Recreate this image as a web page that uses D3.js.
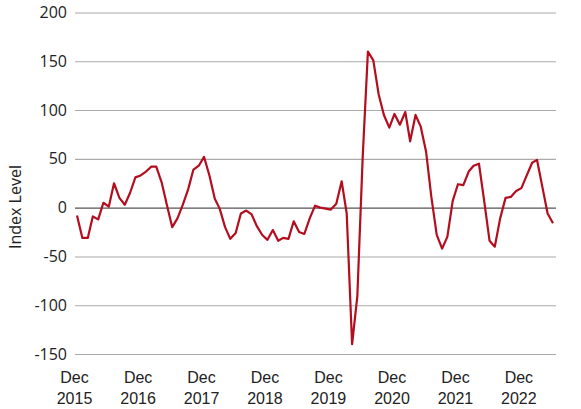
<!DOCTYPE html>
<html>
<head>
<meta charset="utf-8">
<script src="https://cdn.jsdelivr.net/npm/d3@7"></script>
<style>
  body { margin: 0; background: #fff; }
  svg { display: block; font-family: "Open Sans", sans-serif; }
</style>
</head>
<body>
<svg id="chart" width="581" height="409"></svg>
<script>
// monthly index level, Dec 2015 .. Jun 2023
const startMonth = new Date(2015, 11, 1);
const indexValues = [
  -8, -31, -31, -9, -12, 5, 1, 25, 10, 3, 15, 31,
  33, 37, 42, 42, 26, 3, -20, -11, 3, 19, 39, 43,
  52, 33, 9, -1, -20, -32, -26, -6, -3, -7, -19, -28,
  -33, -23, -34, -31, -32, -14, -25, -27, -11, 2, 0, -1,
  -2, 4, 27, -6, -140, -91, 52, 160, 151, 116, 95, 82,
  96, 85, 98, 68, 95, 83, 57, 11, -28, -42, -30, 7,
  24, 23, 37, 43, 45, 7, -34, -40, -11, 10, 11, 17,
  20, 33, 46, 49, 21, -6, -16
];
const yTicks = [-150, -100, -50, 0, 50, 100, 150, 200];
const xTickYears = [2015, 2016, 2017, 2018, 2019, 2020, 2021, 2022];

const data = indexValues.map(function(v, i) {
  return {date: d3.timeMonth.offset(startMonth, i), value: v};
});

const svg = d3.select('#chart');
const plotLeft = 77, plotRight = 553, plotTop = 12.5, plotBottom = 354;

const x = d3.scaleTime()
  .domain([data[0].date, data[data.length - 1].date])
  .range([plotLeft, plotRight]);
const y = d3.scaleLinear().domain([-150, 200]).range([plotBottom, plotTop]);

// horizontal grid + y labels (plain hyphen for negatives)
const yAxis = svg.append('g')
  .attr('transform', 'translate(75,0)')
  .call(d3.axisLeft(y).tickValues(yTicks).tickSize(-481).tickPadding(8)
    .tickFormat(function(d) { return String(d); }));
yAxis.select('.domain').remove();
yAxis.selectAll('.tick line')
  .attr('stroke', function(d) { return d === 0 ? '#555' : '#aaa'; })
  .attr('stroke-width', 1.1);
yAxis.selectAll('.tick text')
  .attr('font-size', 16).attr('fill', '#222')
  .attr('font-family', '"Open Sans", sans-serif');

// x labels, two lines each
const xTicks = xTickYears.map(function(yr) { return new Date(yr, 11, 1); });
const xAxis = svg.append('g')
  .attr('transform', 'translate(-3,' + plotBottom + ')')
  .call(d3.axisBottom(x).tickValues(xTicks).tickSize(0).tickFormat(''));
xAxis.select('.domain').remove();
xAxis.selectAll('.tick').each(function(d) {
  let t = d3.select(this).append('text')
    .attr('fill', '#222').attr('font-size', 16).attr('text-anchor', 'middle');
  t.append('tspan').attr('x', 0).attr('y', 29).text('Dec');
  t.append('tspan').attr('x', 0).attr('y', 49.5).text(d.getFullYear());
});

svg.append('text')
  .attr('transform', 'translate(21,207) rotate(-90)')
  .attr('text-anchor', 'middle')
  .attr('font-size', 16).attr('fill', '#222')
  .text('Index Level');

const line = d3.line()
  .x(function(d) { return x(d.date); })
  .y(function(d) { return y(d.value); });

svg.append('path')
  .datum(data)
  .attr('fill', 'none')
  .attr('stroke', '#b30d1e')
  .attr('stroke-width', 2.2)
  .attr('stroke-linejoin', 'round')
  .attr('d', line);
</script>
</body>
</html>
